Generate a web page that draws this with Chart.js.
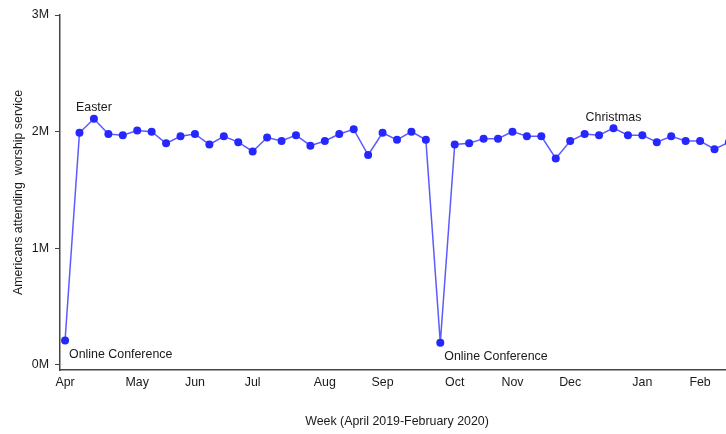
<!DOCTYPE html>
<html lang="en">
<head>
    <meta charset="UTF-8">
    <title>Americans attending worship service</title>
    <script src="https://cdn.jsdelivr.net/npm/chart.js"></script>
    <style>
        body { margin: 0; overflow: hidden; background: #fff; }
    </style>
</head>
<body>
    <canvas id="worshipChart" width="740" height="434"></canvas>

    <script>
        // weekly attendance, April 2019 - February 2020 (millions)
        const attendance = [
            0.21, 1.99, 2.11, 1.98, 1.97, 2.01, 2.00, 1.90, 1.96, 1.98,
            1.89, 1.96, 1.91, 1.83, 1.95, 1.92, 1.97, 1.88, 1.92, 1.98,
            2.02, 1.80, 1.99, 1.93, 2.00, 1.93, 0.19, 1.89, 1.90, 1.94,
            1.94, 2.00, 1.96, 1.96, 1.77, 1.92, 1.98, 1.97, 2.03, 1.97,
            1.97, 1.91, 1.96, 1.92, 1.92, 1.85, 1.91
        ];
        // month label at the first week of each month
        const monthLabels = ['Apr', 'May', 'Jun', 'Jul', 'Aug', 'Sep', 'Oct', 'Nov', 'Dec', 'Jan', 'Feb'];
        const monthWeeks = [0, 5, 9, 13, 18, 22, 27, 31, 35, 40, 44];
        const yTicks = [0, 1, 2, 3];
        // notes written next to some weeks
        const noteWeeks = [2, 38, 0, 26];
        const noteTexts = ['Easter', 'Christmas', 'Online Conference', 'Online Conference'];

        const font = { family: 'Liberation Sans, Arial, sans-serif', size: 12.4 };
        const axisColor = '#444';
        const textColor = '#1a1a1a';

        const notesPlugin = {
            id: 'notes',
            afterDatasetsDraw(chart) {
                const ctx = chart.ctx;
                const xs = chart.scales.x, ys = chart.scales.y;
                ctx.save();
                ctx.font = font.size + 'px ' + font.family;
                ctx.fillStyle = textColor;
                ctx.textBaseline = 'middle';
                noteWeeks.forEach((w, i) => {
                    const px = xs.getPixelForValue(w);
                    const py = ys.getPixelForValue(attendance[w]);
                    if (attendance[w] > 1) {
                        ctx.textAlign = 'center';
                        ctx.fillText(noteTexts[i], px, py - 11);
                    } else {
                        ctx.textAlign = 'left';
                        ctx.fillText(noteTexts[i], px + 4, py + 14);
                    }
                });
                ctx.restore();
            }
        };

        const ctx = document.getElementById('worshipChart').getContext('2d');
        new Chart(ctx, {
            type: 'line',
            data: {
                datasets: [{
                    data: attendance.map((v, i) => ({ x: i, y: v })),
                    borderColor: 'rgba(50, 50, 255, 0.8)',
                    borderWidth: 1.5,
                    pointRadius: 4,
                    pointBorderWidth: 0,
                    pointBackgroundColor: '#2626ff',
                    tension: 0,
                    fill: false
                }]
            },
            options: {
                responsive: false,
                animation: false,
                layout: { padding: { top: 15, right: 6, left: 0, bottom: 0 } },
                plugins: {
                    legend: { display: false },
                    tooltip: { enabled: false }
                },
                scales: {
                    x: {
                        type: 'linear',
                        min: -0.35,
                        max: 46.35,
                        grid: { display: false, drawTicks: false },
                        border: { display: true, color: axisColor, width: 1.5 },
                        afterBuildTicks: (scale) => {
                            scale.ticks = monthWeeks.map(v => ({ value: v }));
                        },
                        afterFit: (scale) => { scale.height = 64; },
                        ticks: {
                            autoSkip: false,
                            maxRotation: 0,
                            padding: 5,
                            color: textColor,
                            font: font,
                            callback: (v) => monthLabels[monthWeeks.indexOf(v)]
                        },
                        title: {
                            display: true,
                            text: 'Week (April 2019-February 2020)',
                            color: textColor,
                            font: font,
                            padding: { top: 0, bottom: 5 }
                        }
                    },
                    y: {
                        min: -0.043,
                        max: 3,
                        grid: { drawOnChartArea: false, drawTicks: true, tickLength: 5, color: axisColor },
                        border: { display: true, color: axisColor, width: 1.5 },
                        afterBuildTicks: (scale) => {
                            scale.ticks = yTicks.map(v => ({ value: v }));
                        },
                        afterFit: (scale) => { scale.width = 60; },
                        ticks: {
                            padding: 6,
                            color: textColor,
                            font: font,
                            callback: (v) => v + 'M'
                        },
                        title: {
                            display: true,
                            text: 'Americans attending  worship service',
                            color: textColor,
                            font: font,
                            padding: { top: 11, bottom: 0 }
                        }
                    }
                }
            },
            plugins: [notesPlugin]
        });
    </script>
</body>
</html>
